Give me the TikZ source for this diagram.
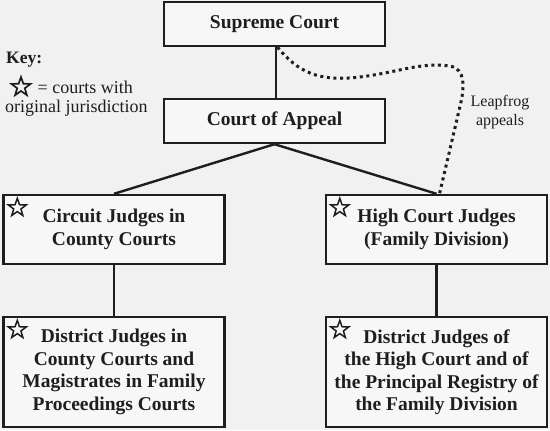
\documentclass[tikz,border=0pt]{standalone}
\usepackage{fontspec}
\setmainfont{Liberation Serif}
\usetikzlibrary{shapes.geometric}

\definecolor{paper}{HTML}{F1F1F1}
\definecolor{ink}{HTML}{1E1E1E}

\tikzset{
  courtbox/.style={draw=ink, line width=2.4bp, fill=paper!60!white, text=ink,
    inner sep=0pt, align=center, minimum width=221bp,
    font=\fontsize{19.5bp}{22.5bp}\selectfont\bfseries},
  starmark/.style={star, star points=5, star point ratio=2.5, draw=ink,
    line width=1.5bp, minimum size=19bp, inner sep=0pt},
  link/.style={draw=ink, line width=2.4bp},
}

\begin{document}
\begin{tikzpicture}[x=1bp, y=-1bp]
	\fill[paper] (0,0) rectangle (550,430);
	\useasboundingbox (0,0) rectangle (550,430);

	% the courts
	\node[courtbox, minimum height=44bp] (sup) at (274.5,24) {Supreme Court};
	\node[courtbox, minimum height=44bp] (appeal) at (274.5,121) {Court of Appeal};
	\node[courtbox, minimum height=69bp] (circuit) at (114,229.5) {Circuit Judges in\\County Courts};
	\node[courtbox, minimum height=69bp] (highct) at (436.5,229.5) {High Court Judges\\(Family Division)};
	\node[courtbox, minimum height=110bp] (distcc) at (114,372) {District Judges in\\County Courts and\\Magistrates in Family\\Proceedings Courts};
	\node[courtbox, minimum height=110bp] (disthc) at (436.5,372) {District Judges of\\the High Court and of\\the Principal Registry of\\the Family Division};

	\foreach \b in {circuit, highct, distcc, disthc}
		\node[starmark] (star-\b) at ([xshift=15bp, yshift=-14bp]\b.north west) {};

	% appeal routes
	\draw[link] ([xshift=1.5bp]sup.south) -- ([xshift=1.5bp]appeal.north);
	\draw[link] (appeal.south) -- (circuit.north);
	\draw[link] (appeal.south) -- (highct.north);
	\draw[link] (circuit.south) -- (distcc.north);
	\draw[link] (highct.south) -- (disthc.north);

	% leapfrog
	\draw[ink, line width=3bp, dash pattern=on 3bp off 3.6bp]
		([xshift=3bp]sup.south) .. controls (298,72) and (318,82) .. (360,77)
		.. controls (400,72) and (420,62) .. (450,66)
		.. controls (466,69) and (464,88) .. (461,102)
		-- ([xshift=3bp]highct.north);
	\node[text=ink, align=center, font=\fontsize{16bp}{19bp}\selectfont] (leap) at (500,112) {Leapfrog\\appeals};

	% key
	\node[text=ink, anchor=west, inner sep=0pt, font=\fontsize{17.5bp}{20bp}\selectfont\bfseries] (key) at (6,60) {Key:};
	\node[starmark, minimum size=20bp, line width=1.7bp] (keystar) at (21,87) {};
	\node[text=ink, anchor=west, inner sep=0pt, font=\fontsize{18bp}{20bp}\selectfont] (keytext) at (37.5,87) {= courts with};
	\node[text=ink, anchor=west, inner sep=0pt, font=\fontsize{18bp}{20bp}\selectfont] (keytext2) at (5,108) {original jurisdiction};
\end{tikzpicture}
\end{document}
